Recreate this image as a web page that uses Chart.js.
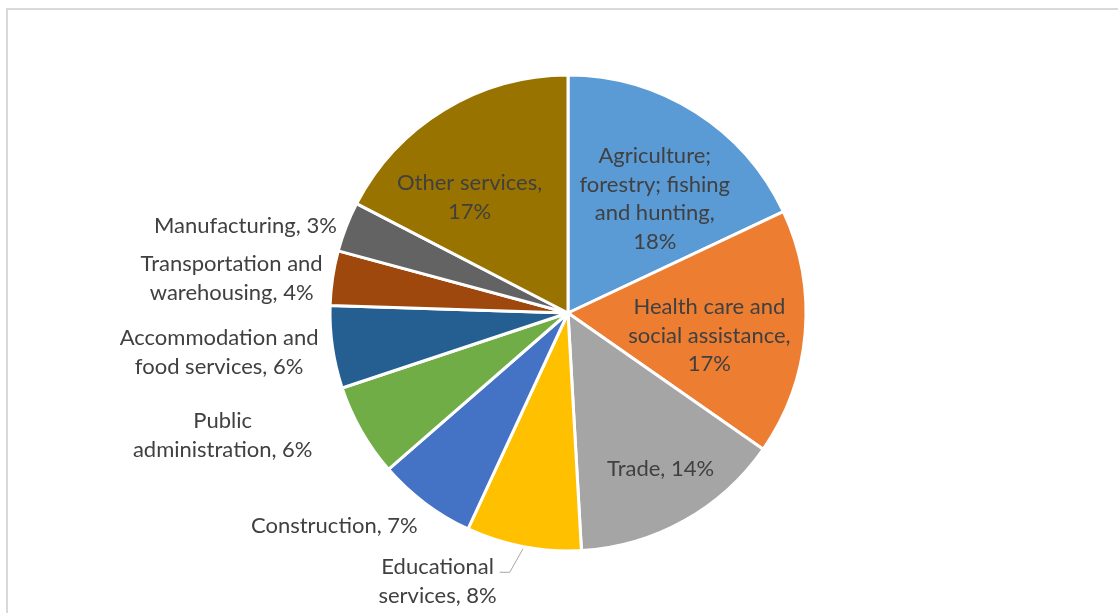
<!DOCTYPE html>
<html>
<head>
<meta charset="utf-8">
<title>Employment by industry</title>
<script src="https://cdn.jsdelivr.net/npm/chart.js@4.4.1/dist/chart.umd.min.js"></script>
<style>
    html, body { margin: 0; padding: 0; background: #fff; }
    #wrap { position: relative; width: 1118px; height: 613px; overflow: hidden; }
    canvas { display: block; }
</style>
</head>
<body>
<div id="wrap"><canvas id="pieChart" width="1118" height="613"></canvas></div>
<script>
// Datos (porcentaje de cada sector)
const categories = [
    'Agriculture; forestry; fishing and hunting',
    'Health care and social assistance',
    'Trade',
    'Educational services',
    'Construction',
    'Public administration',
    'Accommodation and food services',
    'Transportation and warehousing',
    'Manufacturing',
    'Other services'
];
const shares = [18.0, 16.7, 14.4, 7.8, 6.7, 6.3, 5.6, 3.7, 3.4, 17.4];

// Cortes de linea de cada etiqueta, {p} = porcentaje
const labelWraps = [
    ['Agriculture;', 'forestry; fishing', 'and hunting,', '{p}'],
    ['Health care and', 'social assistance,', '{p}'],
    ['Trade, {p}'],
    ['Educational', 'services, {p}'],
    ['Construction, {p}'],
    ['Public', 'administration, {p}'],
    ['Accommodation and', 'food services, {p}'],
    ['Transportation and', 'warehousing, {p}'],
    ['Manufacturing, {p}'],
    ['Other services,', '{p}']
];

const sliceColors = ['#5B9BD5', '#ED7D31', '#A5A5A5', '#FFC000', '#4472C4',
                     '#70AD47', '#255E91', '#9E480E', '#636363', '#997300'];

// Colocacion de etiquetas: dentro (fraccion del radio) o fuera (alineada a la derecha)
const placement = [
    { inside: true, r: 0.62, dx: 8, dy: 10 },
    { inside: true, r: 0.62, dx: -5, dy: 10 },
    { inside: true, r: 0.62, dx: 21, dy: 28 },
    { inside: false, gap: 10, dx: -25, dy: 26, leader: true },
    { inside: false, gap: 10, dx: -2, dy: 15 },
    { inside: false, gap: 10, dx: -41, dy: 0 },
    { inside: false, gap: 10, dx: -5, dy: 4 },
    { inside: false, gap: 10, dx: -1, dy: 2 },
    { inside: false, gap: 10, dx: -1, dy: 2 },
    { inside: true, r: 0.62, dx: -22, dy: 10 }
];

const FONT = '22px Lato, "Liberation Sans", sans-serif';
const LINE_H = 28.7;
const TEXT_COLOR = '#404040';

const total = shares.reduce((a, b) => a + b, 0);

// Marco gris claro alrededor del grafico
const framePlugin = {
    id: 'frame',
    beforeDraw(chart) {
        const ctx = chart.ctx;
        ctx.save();
        ctx.strokeStyle = '#d9d9d9';
        ctx.lineWidth = 2;
        ctx.strokeRect(7, 9, 1300, 800);
        ctx.restore();
    }
};

const labelPlugin = {
    id: 'sliceLabels',
    afterDatasetsDraw(chart) {
        const ctx = chart.ctx;
        const meta = chart.getDatasetMeta(0);
        ctx.save();
        ctx.font = FONT;
        ctx.fillStyle = TEXT_COLOR;
        ctx.textBaseline = 'middle';
        ctx.textAlign = 'center';

        meta.data.forEach((arc, i) => {
            const pct = Math.round(shares[i] / total * 100) + '%';
            const lines = labelWraps[i].map(l => l.replace('{p}', pct));
            const p = placement[i];
            const mid = (arc.startAngle + arc.endAngle) / 2;
            const blockH = lines.length * LINE_H;
            const widths = lines.map(l => ctx.measureText(l).width);
            const blockW = Math.max(...widths);
            const R = 237;

            let cx, cy;
            if (p.inside) {
                const rr = R * p.r;
                cx = arc.x + Math.cos(mid) * rr + p.dx;
                cy = arc.y + Math.sin(mid) * rr + p.dy;
            } else {
                const rr = R + p.gap;
                const right = arc.x + Math.cos(mid) * rr + p.dx;
                cx = right - blockW / 2;
                cy = arc.y + Math.sin(mid) * rr + p.dy;
            }

            const top = cy - blockH / 2 + LINE_H / 2;
            lines.forEach((l, k) => ctx.fillText(l, cx, top + k * LINE_H));

            if (p.leader) {
                // linea guia desde el borde del sector hasta el texto
                const right = cx + blockW / 2;
                const ly = top + 5;
                ctx.strokeStyle = '#a6a6a6';
                ctx.lineWidth = 1;
                ctx.beginPath();
                ctx.moveTo(arc.x + Math.cos(mid) * (R + 3), arc.y + Math.sin(mid) * (R + 3));
                ctx.lineTo(right + 13, ly);
                ctx.lineTo(right + 3, ly);
                ctx.stroke();
            }
        });
        ctx.restore();
    }
};

new Chart(document.getElementById('pieChart'), {
    type: 'pie',
    data: {
        labels: categories,
        datasets: [{
            data: shares,
            backgroundColor: sliceColors,
            borderColor: '#ffffff',
            borderWidth: 3,
            radius: 238
        }]
    },
    options: {
        responsive: false,
        animation: false,
        events: [],
        layout: { padding: { left: 330, right: 312, top: 75, bottom: 62 } },
        plugins: {
            legend: { display: false },
            tooltip: { enabled: false }
        }
    },
    plugins: [framePlugin, labelPlugin]
});
</script>
</body>
</html>
